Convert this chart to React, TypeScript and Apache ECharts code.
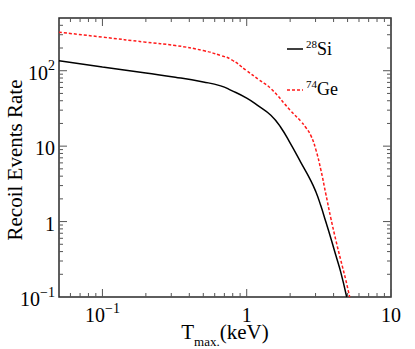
import { useEffect, useRef } from "react";
import * as echarts from "echarts";

const X_MIN = 0.05;
const X_MAX = 10;
const Y_MIN = 0.1;
const Y_MAX = 500;

const siT = [0.05, 0.1, 0.2, 0.32, 0.5, 0.66, 0.78, 1.0, 1.21, 1.47, 1.72, 2.02, 2.37, 2.78, 3.01, 3.26, 3.53, 3.82, 4.14, 4.48, 4.93];
const siRate = [136, 112, 93, 82, 71, 63, 55, 43.3, 33.9, 25.7, 17.8, 10.6, 6.1, 3.5, 2.5, 1.63, 1.0, 0.61, 0.36, 0.215, 0.1];

const geT = [0.05, 0.1, 0.2, 0.32, 0.5, 0.66, 0.78, 1.0, 1.21, 1.47, 2.02, 2.37, 2.56, 2.78, 3.01, 3.26, 3.53, 3.82, 4.14, 4.48, 4.86, 5.17];
const geRate = [324, 279, 239, 216, 185, 159, 141, 100, 76.4, 58, 29.3, 21.4, 17.8, 13.9, 9.06, 4.91, 2.35, 1.13, 0.574, 0.311, 0.168, 0.1];

const seriesNames = ["28Si", "74Ge"];
const legendIsotopes = [
  { mass: "28", symbol: "Si" },
  { mass: "74", symbol: "Ge" },
];

const xMajorTicks = [0.1, 1, 10];
const xMinorTicks = [0.06, 0.07, 0.08, 0.09, 0.2, 0.3, 0.4, 0.5, 0.6, 0.7, 0.8, 0.9, 2, 3, 4, 5, 6, 7, 8, 9];
const yMajorTicks = [1, 10, 100];
const yMinorTicks = [
  0.2, 0.3, 0.4, 0.5, 0.6, 0.7, 0.8, 0.9,
  2, 3, 4, 5, 6, 7, 8, 9,
  20, 30, 40, 50, 60, 70, 80, 90,
  200, 300, 400,
];

const xTitle = { main: "T", sub: "max.", unit: "(keV)" };
const yTitle = "Recoil Events Rate";

const FONT = "'Liberation Serif', 'Times New Roman', Times, serif";
const FRAME = "#2a2a2a";
const TICK = "#555555";
const RED = "#ff1a1a";

function decadeLabel(v: number): string {
  const lg = Math.log10(v);
  const k = Math.round(lg);
  if (Math.abs(lg - k) > 1e-6) return "";
  if (k === 0) return "{b|1}";
  if (k === 1) return "{b|10}";
  const exp = k < 0 ? "\u2212" + Math.abs(k) : String(k);
  return "{b|10}{s|" + exp + "}";
}

const labelRich = {
  b: { fontFamily: FONT, fontSize: 20, lineHeight: 24, verticalAlign: "bottom", color: "#000" },
  s: { fontFamily: FONT, fontSize: 14, lineHeight: 14, verticalAlign: "top", color: "#000" },
};

function xTickRender(len: number) {
  return (_params: any, api: any) => {
    const v = api.value(0);
    const b = api.coord([v, Y_MIN]);
    const t = api.coord([v, Y_MAX]);
    const style = { stroke: TICK, lineWidth: 1 };
    return {
      type: "group",
      children: [
        { type: "line", shape: { x1: b[0], y1: b[1], x2: b[0], y2: b[1] - len }, style },
        { type: "line", shape: { x1: t[0], y1: t[1], x2: t[0], y2: t[1] + len }, style },
      ],
    };
  };
}

function yTickRender(len: number) {
  return (_params: any, api: any) => {
    const v = api.value(1);
    const l = api.coord([X_MIN, v]);
    const r = api.coord([X_MAX, v]);
    const style = { stroke: TICK, lineWidth: 1 };
    return {
      type: "group",
      children: [
        { type: "line", shape: { x1: l[0], y1: l[1], x2: l[0] + len, y2: l[1] }, style },
        { type: "line", shape: { x1: r[0], y1: r[1], x2: r[0] - len, y2: r[1] }, style },
      ],
    };
  };
}

export default function App() {
  const ref = useRef<HTMLDivElement>(null);

  useEffect(() => {
    if (!ref.current) return;
    const chart = echarts.init(ref.current, null, { renderer: "svg" });

    const legendRich = {
      b: { fontFamily: FONT, fontSize: 18, lineHeight: 22, fill: "#000" },
      s: { fontFamily: FONT, fontSize: 11, lineHeight: 11, verticalAlign: "top", fill: "#000" },
    };

    const option: any = {
      animation: false,
      backgroundColor: "#fff",
      textStyle: { fontFamily: FONT },
      grid: {
        left: 59,
        right: 24,
        top: 18,
        bottom: 52,
        show: true,
        borderColor: FRAME,
        borderWidth: 1.5,
        backgroundColor: "transparent",
        outerBoundsMode: "none",
      },
      xAxis: {
        type: "log",
        logBase: 10,
        min: X_MIN,
        max: X_MAX,
        axisLine: { show: false },
        axisTick: { show: false },
        splitLine: { show: false },
        axisLabel: {
          margin: 4,
          fontFamily: FONT,
          formatter: (v: number) => decadeLabel(v),
          rich: labelRich,
          showMinLabel: true,
          showMaxLabel: true,
        },
      },
      yAxis: {
        type: "log",
        logBase: 10,
        min: Y_MIN,
        max: Y_MAX,
        axisLine: { show: false },
        axisTick: { show: false },
        splitLine: { show: false },
        axisLabel: {
          margin: 4,
          fontFamily: FONT,
          formatter: (v: number) => decadeLabel(v),
          rich: labelRich,
        },
      },
      series: [
        {
          name: seriesNames[0],
          type: "line",
          data: siT.map((t, i) => [t, siRate[i]]),
          showSymbol: false,
          smooth: 0.5,
          lineStyle: { color: "#000", width: 1.5 },
          clip: true,
          silent: true,
        },
        {
          name: seriesNames[1],
          type: "line",
          data: geT.map((t, i) => [t, geRate[i]]),
          showSymbol: false,
          smooth: 0.5,
          lineStyle: { color: RED, width: 1.5, type: [3, 2] },
          clip: true,
          silent: true,
        },
        {
          type: "custom",
          silent: true,
          data: xMajorTicks.map((v) => [v, 1]),
          renderItem: xTickRender(8),
        },
        {
          type: "custom",
          silent: true,
          data: xMinorTicks.map((v) => [v, 1]),
          renderItem: xTickRender(4),
        },
        {
          type: "custom",
          silent: true,
          data: yMajorTicks.map((v) => [1, v]),
          renderItem: yTickRender(8),
        },
        {
          type: "custom",
          silent: true,
          data: yMinorTicks.map((v) => [1, v]),
          renderItem: yTickRender(4),
        },
      ],
      graphic: [
        {
          type: "text",
          x: 15,
          y: 160,
          rotation: Math.PI / 2,
          style: {
            text: yTitle,
            fontFamily: FONT,
            fontSize: 21,
            fill: "#000",
            align: "center",
            verticalAlign: "middle",
          },
        },
        {
          type: "text",
          x: 225,
          y: 321,
          style: {
            text: "{t|" + xTitle.main + "}{m|" + xTitle.sub + "}{t|" + xTitle.unit + "}",
            align: "center",
            verticalAlign: "top",
            rich: {
              t: { fontFamily: FONT, fontSize: 21, lineHeight: 22, verticalAlign: "top", fill: "#000" },
              m: { fontFamily: FONT, fontSize: 13, lineHeight: 27, verticalAlign: "bottom", fill: "#000" },
            },
          },
        },
        {
          type: "line",
          shape: { x1: 287, y1: 49, x2: 303, y2: 49 },
          style: { stroke: "#000", lineWidth: 1.5 },
        },
        {
          type: "text",
          x: 306,
          y: 49,
          style: {
            text: "{s|" + legendIsotopes[0].mass + "}{b|" + legendIsotopes[0].symbol + "}",
            align: "left",
            verticalAlign: "middle",
            rich: legendRich,
          },
        },
        {
          type: "line",
          shape: { x1: 287, y1: 90, x2: 303, y2: 90 },
          style: { stroke: RED, lineWidth: 1.5, lineDash: [3, 2] },
        },
        {
          type: "text",
          x: 306,
          y: 89,
          style: {
            text: "{s|" + legendIsotopes[1].mass + "}{b|" + legendIsotopes[1].symbol + "}",
            align: "left",
            verticalAlign: "middle",
            rich: legendRich,
          },
        },
      ],
    };

    chart.setOption(option);
    return () => chart.dispose();
  }, []);

  return (
    <div
      ref={ref}
      style={{ position: "fixed", left: 0, top: 0, width: 415, height: 349 }}
    />
  );
}
